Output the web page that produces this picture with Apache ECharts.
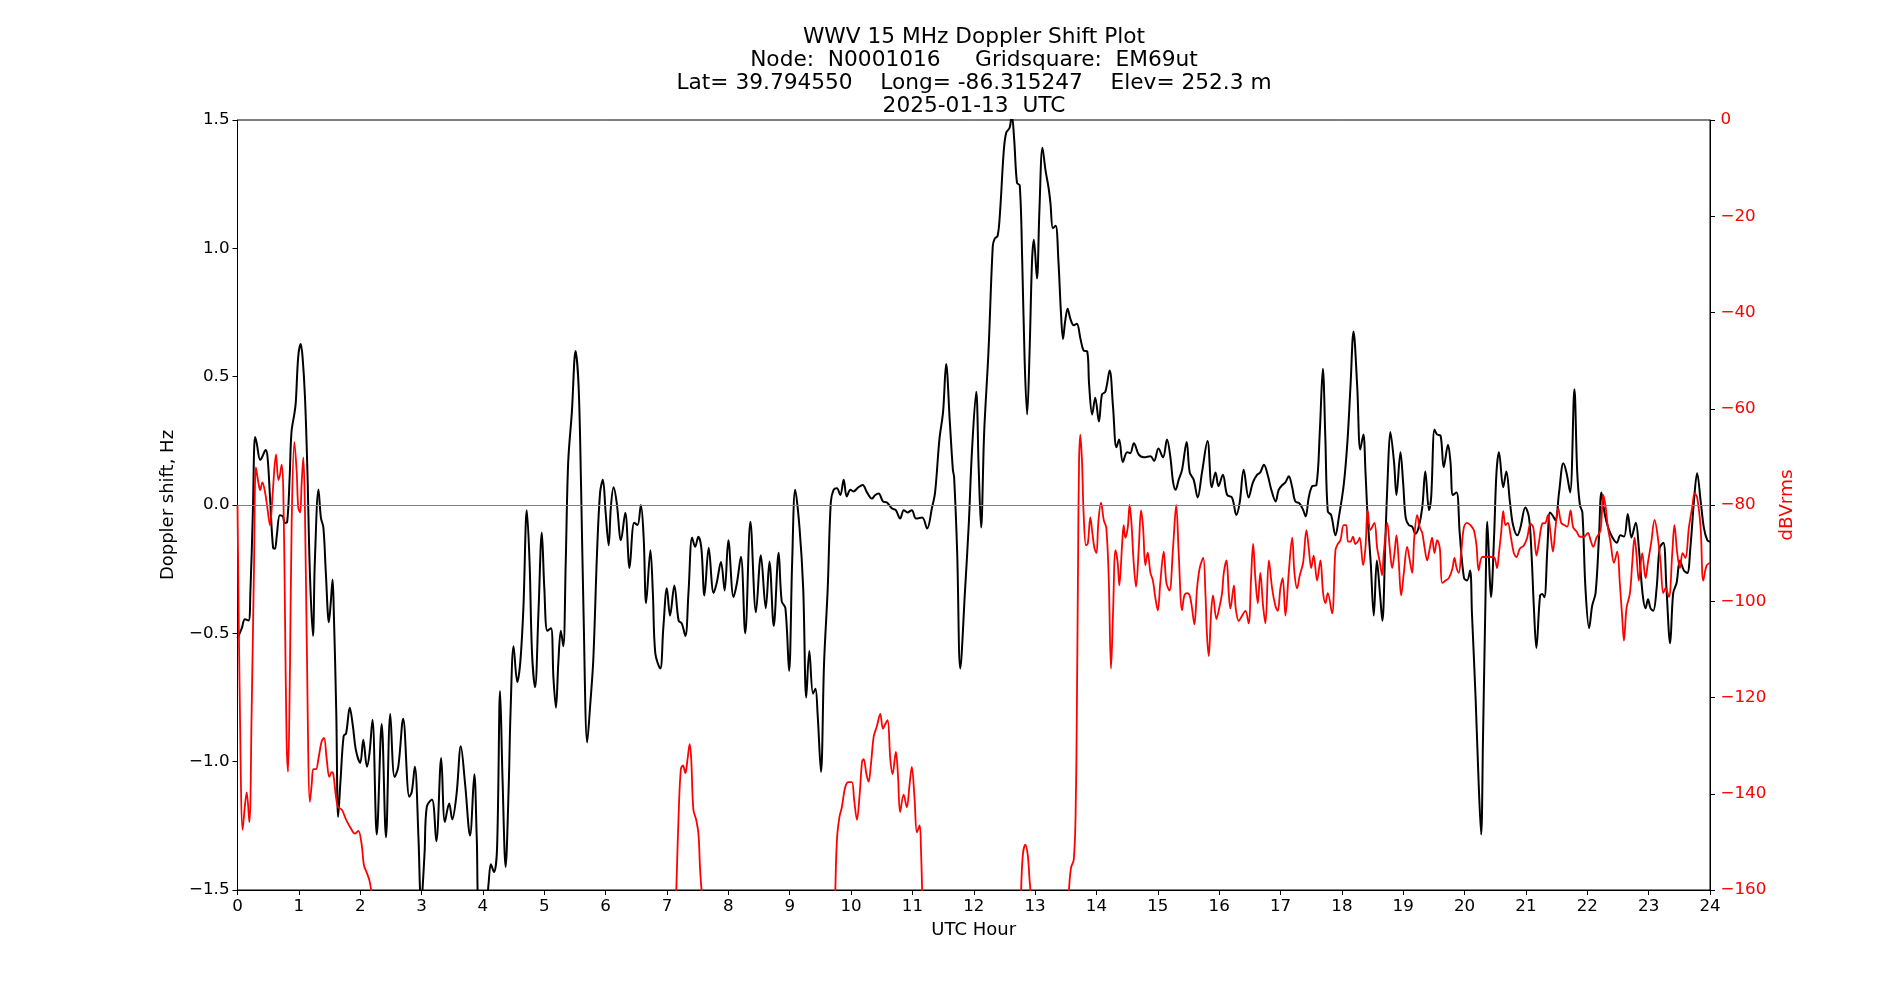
<!DOCTYPE html>
<html>
<head>
<meta charset="utf-8">
<script src="https://cdn.jsdelivr.net/npm/echarts@6/dist/echarts.min.js"></script>
<style>
html,body{margin:0;padding:0;background:#fff;}
#chart{width:1900px;height:1000px;}
</style>
</head>
<body>
<div id="chart"></div>
<script>
// ---- Data ----
const titleLines = [
  'WWV 15 MHz Doppler Shift Plot',
  'Node:  N0001016     Gridsquare:  EM69ut',
  'Lat= 39.794550    Long= -86.315247    Elev= 252.3 m',
  '2025-01-13  UTC'
];
const xAxisName = 'UTC Hour';
const leftAxisName = 'Doppler shift, Hz';
const rightAxisName = 'dBVrms';

// Doppler shift (black), hours and Hz
const dopplerHours = [
0.0,0.07,0.12,0.18,0.21,0.25,0.285,0.31,0.37,0.40,0.46,0.49,0.53,0.58,0.61,0.64,0.69,0.74,0.77,0.81,
0.85,0.88,0.93,0.95,0.99,1.03,1.06,1.10,1.14,1.18,1.23,1.26,1.32,1.36,1.40,1.44,1.49,1.52,1.55,1.57,
1.61,1.64,1.68,1.73,1.77,1.83,1.88,1.93,2.00,2.05,2.11,2.15,2.20,2.27,2.35,2.42,2.49,2.56,2.62,2.70,
2.80,2.84,2.89,2.95,2.975,2.995,3.02,3.05,3.085,3.17,3.24,3.32,3.38,3.45,3.50,3.57,3.64,3.71,3.79,3.86,
3.90,3.94,4.05,4.09,4.13,4.18,4.23,4.28,4.32,4.37,4.42,4.45,4.50,4.56,4.61,4.66,4.715,4.76,4.80,4.85,
4.905,4.96,5.00,5.05,5.11,5.15,5.19,5.23,5.27,5.31,5.35,5.39,5.45,5.51,5.56,5.60,5.64,5.70,5.75,5.80,
5.86,5.91,5.955,6.00,6.05,6.085,6.13,6.18,6.25,6.32,6.39,6.465,6.52,6.574,6.62,6.66,6.73,6.77,6.81,6.89,
6.94,6.998,7.05,7.12,7.19,7.24,7.30,7.35,7.41,7.46,7.51,7.56,7.61,7.68,7.76,7.81,7.88,7.94,8.00,8.085,
8.14,8.205,8.275,8.36,8.45,8.53,8.61,8.67,8.74,8.82,8.87,8.93,8.99,9.04,9.09,9.16,9.22,9.27,9.32,9.38,
9.42,9.455,9.51,9.56,9.62,9.67,9.715,9.77,9.824,9.88,9.93,9.99,10.04,10.12,10.19,10.26,10.34,10.395,10.45,10.52,
10.585,10.67,10.73,10.80,10.86,10.92,10.99,11.06,11.16,11.24,11.32,11.37,11.44,11.50,11.55,11.61,11.66,11.68,11.73,11.78,
11.86,11.92,11.97,12.04,12.08,12.12,12.17,12.24,12.31,12.34,12.39,12.43,12.49,12.53,12.585,12.62,12.66,12.705,12.75,12.79,
12.83,12.87,12.91,12.95,12.98,13.03,13.07,13.12,13.17,13.22,13.25,13.29,13.335,13.38,13.42,13.455,13.49,13.53,13.575,13.63,
13.68,13.74,13.79,13.85,13.88,13.93,13.98,14.04,14.09,14.145,14.215,14.27,14.325,14.37,14.43,14.50,14.55,14.61,14.69,14.77,
14.88,14.94,15.01,15.085,15.15,15.205,15.25,15.29,15.34,15.395,15.47,15.52,15.585,15.65,15.72,15.81,15.88,15.94,15.99,16.06,
16.13,16.21,16.28,16.335,16.40,16.48,16.55,16.62,16.67,16.73,16.79,16.85,16.92,16.97,17.03,17.08,17.135,17.19,17.24,17.31,
17.37,17.41,17.46,17.515,17.585,17.64,17.69,17.73,17.77,17.825,17.895,17.95,18.03,18.09,18.14,18.19,18.25,18.30,18.35,18.385,
18.42,18.47,18.52,18.57,18.62,18.66,18.71,18.75,18.79,18.85,18.89,18.955,18.998,19.04,19.09,19.145,19.20,19.25,19.31,19.36,
19.42,19.455,19.51,19.55,19.61,19.66,19.73,19.77,19.81,19.87,19.92,19.99,20.04,20.09,20.12,20.18,20.23,20.27,20.30,20.34,
20.37,20.41,20.43,20.48,20.52,20.56,20.63,20.68,20.74,20.79,20.86,20.91,20.99,21.05,21.09,21.13,21.17,21.23,21.265,21.30,
21.35,21.39,21.43,21.48,21.54,21.61,21.66,21.72,21.79,21.836,21.88,21.92,21.97,22.03,22.08,22.135,22.19,22.23,22.28,22.34,
22.41,22.48,22.54,22.60,22.66,22.72,22.79,22.84,22.90,22.95,22.99,23.03,23.075,23.13,23.18,23.24,23.29,23.35,23.40,23.455,
23.51,23.575,23.63,23.68,23.74,23.79,23.85,23.90,23.955,24.0
];
const dopplerHz = [
-0.52,-0.48,-0.445,-0.45,-0.34,-0.03,0.265,0.245,0.175,0.186,0.214,0.186,0.03,-0.167,-0.17,-0.12,-0.04,-0.045,-0.07,-0.065,
0.108,0.284,0.36,0.40,0.578,0.627,0.578,0.42,0.127,-0.265,-0.51,-0.225,0.06,-0.05,-0.088,-0.265,-0.457,-0.38,-0.29,-0.42,
-0.81,-1.215,-1.07,-0.90,-0.89,-0.79,-0.86,-0.955,-1.005,-0.915,-1.02,-0.97,-0.837,-1.284,-0.853,-1.294,-0.814,-1.06,-1.02,-0.833,
-1.137,-1.118,-1.02,-1.30,-1.50,-1.57,-1.48,-1.35,-1.176,-1.147,-1.31,-0.986,-1.235,-1.163,-1.225,-1.127,-0.94,-1.088,-1.288,-1.049,
-1.30,-1.56,-1.56,-1.48,-1.40,-1.43,-1.34,-0.725,-1.07,-1.41,-1.10,-0.81,-0.55,-0.69,-0.61,-0.40,-0.02,-0.22,-0.575,-0.71,
-0.42,-0.107,-0.32,-0.49,-0.48,-0.676,-0.79,-0.61,-0.49,-0.55,-0.22,0.167,0.363,0.60,0.461,0.069,-0.42,-0.925,-0.775,-0.598,
-0.186,0.049,0.098,-0.029,-0.157,-0.01,0.069,0.01,-0.137,-0.03,-0.245,-0.069,-0.078,0.0,-0.127,-0.382,-0.176,-0.343,-0.578,-0.637,
-0.48,-0.324,-0.431,-0.314,-0.451,-0.461,-0.51,-0.343,-0.127,-0.163,-0.124,-0.167,-0.353,-0.167,-0.343,-0.304,-0.222,-0.333,-0.137,-0.359,
-0.304,-0.202,-0.50,-0.065,-0.418,-0.196,-0.402,-0.22,-0.471,-0.186,-0.375,-0.402,-0.646,-0.225,0.059,-0.088,-0.324,-0.75,-0.569,-0.735,
-0.716,-0.814,-1.04,-0.618,-0.324,0.01,0.059,0.065,0.039,0.098,0.033,0.059,0.053,0.069,0.078,0.049,0.025,0.039,0.045,0.014,
0.01,-0.014,-0.02,-0.053,-0.02,-0.029,-0.02,-0.053,-0.049,-0.092,-0.01,0.049,0.255,0.363,0.549,0.324,0.137,0.108,-0.186,-0.637,
-0.324,-0.069,0.206,0.441,0.147,-0.088,0.284,0.598,1.008,1.037,1.049,1.147,1.382,1.451,1.47,1.52,1.42,1.255,1.245,0.951,
0.559,0.353,0.598,0.951,1.033,0.882,1.147,1.392,1.304,1.235,1.176,1.078,1.088,0.951,0.755,0.647,0.716,0.765,0.725,0.70,
0.706,0.647,0.602,0.598,0.47,0.353,0.418,0.325,0.431,0.441,0.524,0.382,0.225,0.255,0.167,0.206,0.202,0.241,0.196,0.186,
0.19,0.172,0.22,0.186,0.255,0.186,0.088,0.059,0.098,0.137,0.245,0.127,0.098,0.029,0.127,0.249,0.069,0.127,0.073,0.118,
0.039,0.029,-0.039,0.01,0.137,0.029,0.088,0.118,0.127,0.157,0.118,0.059,0.014,0.059,0.078,0.088,0.112,0.069,0.014,0.006,
-0.02,-0.045,0.029,0.073,0.078,0.284,0.531,0.265,-0.025,-0.039,-0.118,-0.049,0.078,0.245,0.461,0.676,0.461,0.216,0.275,0.127,
-0.049,-0.225,-0.431,-0.216,-0.343,-0.451,-0.127,0.127,0.284,0.167,0.039,0.206,0.088,-0.049,-0.078,-0.084,-0.112,-0.088,-0.01,0.131,
-0.02,0.029,0.294,0.275,0.269,0.147,0.235,0.167,0.039,0.049,-0.108,-0.284,-0.294,-0.255,-0.422,-0.755,-1.088,-1.284,-0.912,-0.373,
-0.065,-0.284,-0.359,-0.127,0.127,0.206,0.069,0.131,0.01,-0.078,-0.118,-0.088,-0.01,-0.049,-0.186,-0.402,-0.557,-0.353,-0.347,-0.359,
-0.167,-0.029,-0.039,-0.059,0.049,0.163,0.127,0.049,0.451,0.127,0.0,-0.029,-0.324,-0.48,-0.392,-0.343,-0.127,0.049,-0.029,-0.088,
-0.127,-0.147,-0.118,-0.123,-0.035,-0.127,-0.069,-0.167,-0.343,-0.402,-0.367,-0.402,-0.412,-0.324,-0.167,-0.147,-0.324,-0.539,-0.343,-0.304,
-0.216,-0.255,-0.265,-0.167,0.02,0.124,0.01,-0.088,-0.137,-0.143
];

// Signal level (red), hours and dBVrms; null marks where the trace is below the axis
const powerHours = [
0.0,0.04,0.084,0.122,0.15,0.193,0.23,0.27,0.30,0.34,0.37,0.405,0.45,0.486,0.53,0.574,0.628,0.666,0.693,0.72,
0.747,0.774,0.80,0.823,0.856,0.883,0.927,0.965,0.99,1.02,1.046,1.073,1.10,1.128,1.18,1.21,1.236,1.28,1.318,1.372,
1.41,1.454,1.497,1.535,1.56,1.606,1.64,1.70,1.77,1.834,1.916,1.97,2.024,2.06,2.106,2.15,2.19,4.5,
7.15,7.19,7.226,7.26,7.30,7.335,7.37,7.395,7.43,7.476,7.514,7.54,7.57,8.5,
9.743,9.77,9.81,9.85,9.906,9.96,10.014,10.05,10.096,10.14,10.18,10.205,10.25,10.286,10.324,10.37,10.42,10.476,10.52,10.558,
10.596,10.64,10.677,10.73,10.764,10.80,10.857,10.91,10.95,10.99,11.036,11.074,11.118,11.14,11.16,12.0,
12.77,12.80,12.84,12.88,12.91,12.93,13.2,
13.547,13.585,13.63,13.66,13.68,13.70,13.716,13.737,13.765,13.79,13.83,13.86,13.90,13.933,13.966,14.0,14.03,14.074,14.12,14.16,
14.20,14.237,14.27,14.31,14.346,14.373,14.42,14.444,14.47,14.51,14.54,14.57,14.607,14.645,14.69,14.727,14.76,14.797,14.835,14.88,
14.92,14.96,15.0,15.04,15.096,15.14,15.19,15.248,15.30,15.34,15.395,15.433,15.476,15.52,15.558,15.596,15.64,15.683,15.74,15.776,
15.80,15.83,15.868,15.90,15.955,15.993,16.047,16.075,16.12,16.156,16.183,16.24,16.27,16.32,16.373,16.428,16.48,16.52,16.553,16.59,
16.63,16.67,16.716,16.754,16.81,16.863,16.917,16.955,16.998,17.036,17.08,17.134,17.19,17.227,17.27,17.314,17.368,17.422,17.46,17.50,
17.54,17.596,17.65,17.694,17.732,17.77,17.84,17.895,17.933,17.977,18.03,18.07,18.10,18.14,18.18,18.22,18.26,18.29,18.346,18.384,
18.42,18.466,18.53,18.575,18.62,18.656,18.683,18.74,18.78,18.82,18.857,18.89,18.928,18.966,19.01,19.064,19.107,19.146,19.18,19.227,
19.27,19.31,19.346,19.39,19.434,19.47,19.51,19.553,19.596,19.635,19.69,19.743,19.80,19.835,19.87,19.906,19.944,19.988,20.04,20.096,
20.15,20.194,20.23,20.287,20.368,20.433,20.488,20.53,20.56,20.596,20.63,20.667,20.705,20.75,20.803,20.846,20.9,20.966,21.02,21.075,
21.12,21.173,21.21,21.265,21.32,21.358,21.40,21.44,21.482,21.526,21.575,21.63,21.673,21.727,21.77,21.825,21.88,21.945,22.01,22.053,
22.097,22.15,22.216,22.26,22.30,22.336,22.38,22.434,22.488,22.53,22.57,22.597,22.64,22.695,22.733,22.77,22.80,22.84,22.895,22.95,
22.988,23.042,23.097,23.14,23.195,23.238,23.276,23.33,23.385,23.42,23.466,23.51,23.553,23.60,23.656,23.71,23.75,23.79,23.847,23.89,
23.944,24.0
];
const powerDb = [
-80,-123.4,-147.5,-142.3,-139.7,-145.9,-123.4,-92.0,-72.2,-75.3,-76.9,-75.3,-77.4,-80.5,-84.2,-77.4,-69.5,-74.8,-73.7,-71.6,
-77.4,-102.5,-128.7,-135.4,-113.0,-83.7,-66.9,-73.2,-80.5,-81.6,-75.3,-70.1,-81.6,-107.7,-141.7,-138.0,-134.9,-134.9,-132.8,-129.1,
-128.4,-132.8,-136.5,-135.5,-135.8,-140.7,-142.8,-143.3,-145.4,-146.9,-148.3,-147.7,-150.6,-154.8,-156.4,-158.0,-161,null,
-161,-144.3,-134.9,-134.1,-135.7,-132.8,-129.7,-132.8,-143.3,-145.4,-148.5,-155.8,-161,null,
-161,-149.6,-144.9,-142.8,-138.6,-137.6,-137.6,-141.2,-145.4,-140.2,-133.3,-132.8,-135.9,-137.5,-133.9,-128.1,-126.0,-123.4,-126.5,-125.5,
-124.7,-132.8,-135.9,-131.3,-135.9,-143.8,-140.2,-142.8,-138.6,-134.4,-141.2,-148.0,-146.6,-151.6,-161,null,
-161,-152.7,-150.6,-152.7,-157.9,-161,null,
-161,-155.4,-153.7,-144.3,-123.4,-92.0,-71.1,-65.4,-71.1,-81.6,-88.4,-87.9,-82.6,-85.8,-88.9,-90.0,-83.7,-79.5,-83.2,-84.7,
-95.2,-114.0,-102.5,-89.4,-92.0,-96.7,-87.8,-84.2,-86.8,-84.7,-80.0,-83.7,-92.0,-97.0,-88.9,-81.1,-84.7,-92.5,-89.9,-94.1,
-95.7,-99.3,-101.9,-96.2,-89.7,-96.2,-97.8,-88.9,-80.0,-89.9,-101.9,-98.8,-98.3,-98.8,-101.5,-104.8,-97.3,-93.1,-91.0,-98.3,
-106.7,-111.4,-102.5,-98.8,-103.7,-101.9,-98.3,-94.1,-91.5,-98.3,-101.5,-96.7,-101.5,-104.1,-103.0,-102.0,-104.6,-95.2,-88.1,-95.2,
-100.4,-94.1,-101.0,-104.6,-91.5,-97.3,-101.0,-102.0,-97.3,-95.2,-103.0,-94.1,-86.8,-94.1,-97.3,-94.6,-92.0,-85.2,-88.9,-93.1,
-90.5,-95.7,-91.5,-98.3,-100.4,-98.3,-102.5,-89.4,-88.1,-87.3,-84.2,-84.2,-87.6,-87.6,-86.6,-88.1,-87.6,-86.8,-92.5,-88.9,
-81.1,-85.2,-83.7,-88.9,-92.0,-94.6,-90.0,-83.7,-88.9,-93.1,-90.0,-86.3,-92.0,-98.8,-94.1,-88.7,-91.5,-94.1,-86.8,-82.1,
-84.7,-85.8,-88.7,-91.5,-88.9,-86.8,-90.0,-87.3,-88.9,-96.2,-95.7,-95.2,-93.3,-91.0,-93.1,-94.1,-90.0,-84.7,-83.7,-84.2,
-85.2,-88.4,-93.6,-90.8,-90.8,-90.8,-91.0,-93.1,-90.0,-85.8,-81.3,-84.2,-83.7,-86.3,-90.0,-90.8,-89.1,-88.4,-86.8,-83.9,
-84.7,-90.5,-87.9,-83.9,-83.7,-82.1,-85.8,-89.7,-84.7,-80.7,-83.7,-84.2,-84.5,-81.1,-84.7,-85.5,-86.6,-86.6,-85.8,-87.3,
-88.7,-86.8,-85.2,-77.9,-80.5,-84.7,-87.8,-92.0,-89.7,-96.2,-103.5,-108.2,-101.4,-98.3,-92.0,-86.8,-90.0,-95.7,-90.0,-95.2,
-92.0,-87.8,-83.1,-85.8,-92.0,-98.3,-97.3,-99.1,-90.0,-84.2,-90.0,-93.1,-90.0,-91.0,-84.7,-80.5,-77.6,-78.4,-84.7,-95.7,
-92.6,-92.0
];

// ---- Chart ----
const FONT = 'DejaVu Sans';
const minusFmt = (s) => String(s).replace('-', '\u2212');
const blackData = dopplerHours.map((h, i) => [h, dopplerHz[i]]);
const redData = powerHours.map((h, i) => [h, powerDb[i]]);

const chart = echarts.init(document.getElementById('chart'), null, {renderer: 'canvas'});
chart.setOption({
  animation: false,
  backgroundColor: '#ffffff',
  textStyle: {fontFamily: FONT},
  title: {
    text: titleLines.join('\n'),
    left: 974,
    textAlign: 'center',
    top: 25.5,
    padding: 0,
    textStyle: {fontFamily: FONT, fontSize: 21.7, fontWeight: 'normal', color: '#000', lineHeight: 23}
  },
  grid: {
    left: 237.5, right: 190, top: 120, bottom: 110,
    show: true, borderColor: '#000', borderWidth: 1, backgroundColor: 'transparent'
  },
  xAxis: {
    type: 'value', min: 0, max: 24, interval: 1,
    name: xAxisName, nameLocation: 'middle', nameGap: 31,
    nameTextStyle: {fontFamily: FONT, fontSize: 18, color: '#000'},
    axisLine: {show: true, onZero: false, lineStyle: {color: '#000', width: 1}},
    axisTick: {show: true, inside: false, length: 5, lineStyle: {color: '#000', width: 1}},
    axisLabel: {fontFamily: FONT, fontSize: 16.7, color: '#000', margin: 8},
    splitLine: {show: false}
  },
  yAxis: [
    {
      type: 'value', min: -1.5, max: 1.5, interval: 0.5, position: 'left',
      name: leftAxisName, nameLocation: 'middle', nameGap: 60, nameRotate: 90,
      nameTextStyle: {fontFamily: FONT, fontSize: 18, color: '#000'},
      axisLine: {show: true, onZero: false, lineStyle: {color: '#000', width: 1}},
      axisTick: {show: true, inside: false, length: 5, lineStyle: {color: '#000', width: 1}},
      axisLabel: {fontFamily: FONT, fontSize: 16.7, color: '#000', margin: 8,
        formatter: (v) => minusFmt(v.toFixed(1))},
      splitLine: {show: false}
    },
    {
      type: 'value', min: -160, max: 0, interval: 20, position: 'right',
      name: rightAxisName, nameLocation: 'middle', nameGap: 64, nameRotate: 90,
      nameTextStyle: {fontFamily: FONT, fontSize: 18.5, color: '#ff0000'},
      axisLine: {show: true, onZero: false, lineStyle: {color: '#000', width: 1}},
      axisTick: {show: true, inside: false, length: 5, lineStyle: {color: '#000', width: 1}},
      axisLabel: {fontFamily: FONT, fontSize: 16.7, color: '#ff0000', margin: 10.5,
        formatter: (v) => minusFmt(v)},
      splitLine: {show: false}
    }
  ],
  series: [
    {
      name: 'Doppler', type: 'line', yAxisIndex: 0, data: blackData,
      showSymbol: false, smooth: 0.35, clip: true,
      lineStyle: {color: '#000', width: 2},
      itemStyle: {color: '#000'},
      z: 3,
      markLine: {
        silent: true, symbol: 'none', animation: false,
        label: {show: false},
        lineStyle: {color: '#808080', width: 1, type: 'solid'},
        data: [{yAxis: 0}]
      }
    },
    {
      name: 'Power', type: 'line', yAxisIndex: 1, data: redData,
      showSymbol: false, smooth: 0.35, clip: true, connectNulls: false,
      lineStyle: {color: '#ff0000', width: 1.8},
      itemStyle: {color: '#ff0000'},
      z: 4
    }
  ]
});
</script>
</body>
</html>
